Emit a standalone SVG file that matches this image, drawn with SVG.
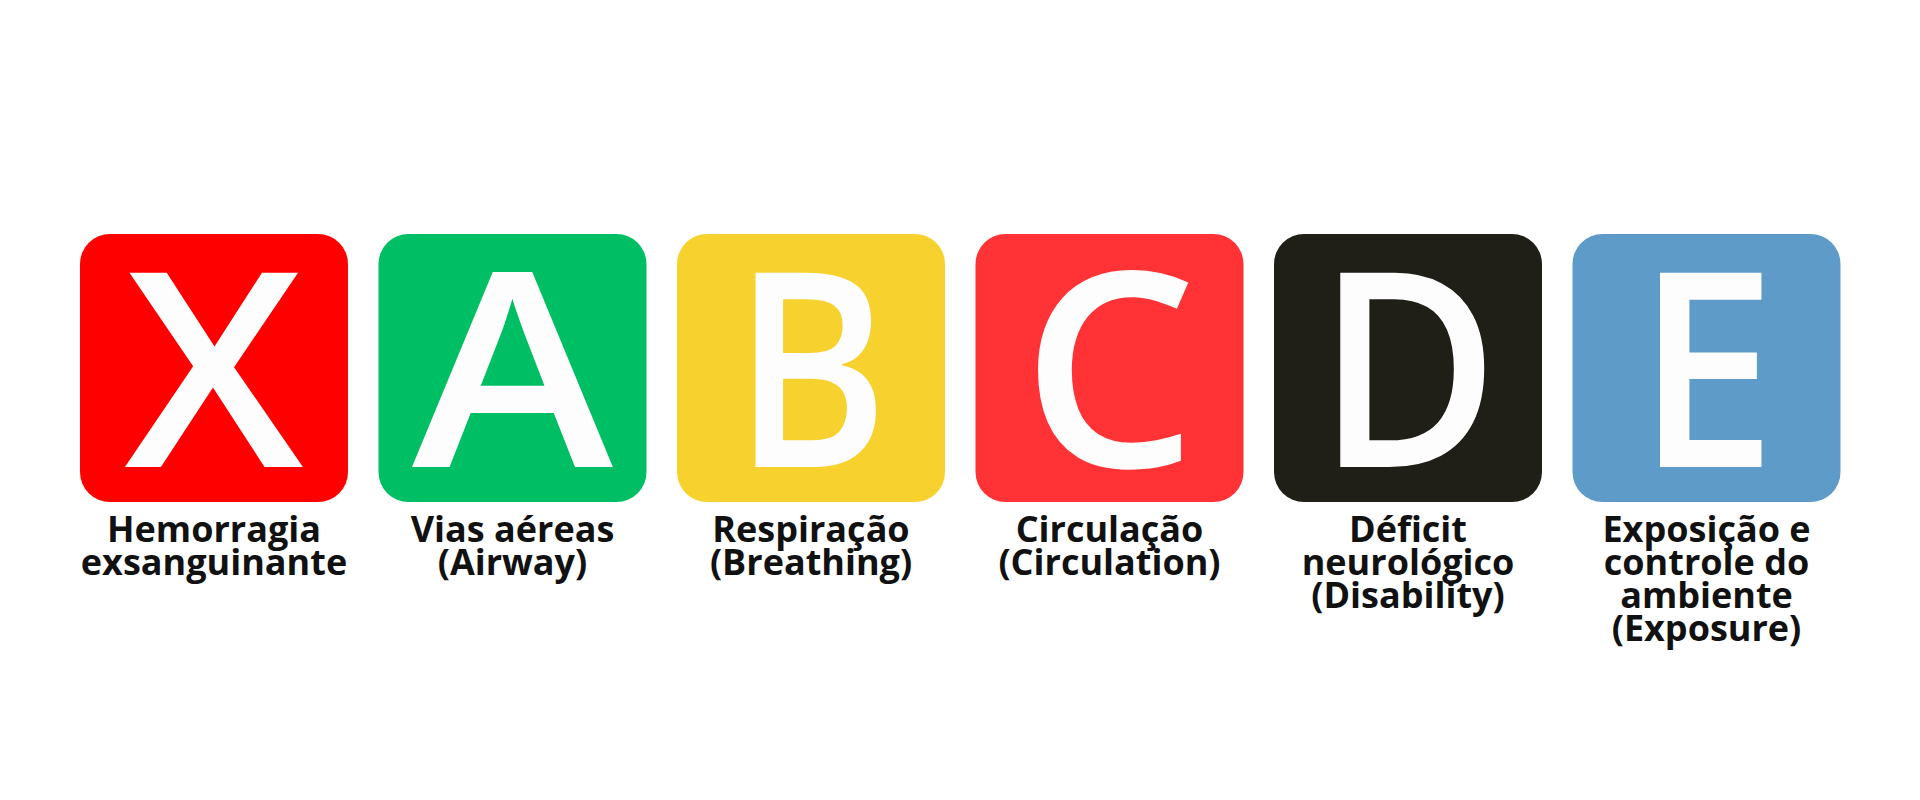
<svg xmlns="http://www.w3.org/2000/svg" width="1920" height="800" viewBox="0 0 1920 800">
  <style>
    .box { stroke: none; }
    .big { font-family: "Open Sans", "Liberation Sans", sans-serif; font-weight: 560; font-size: 272px; fill: #FDFDFD; text-anchor: middle; }
    .lbl { font-family: "Open Sans", "Liberation Sans", sans-serif; font-weight: 700; font-size: 36px; fill: #111111; text-anchor: middle; }
  </style>
  <rect x="0" y="0" width="1920" height="800" fill="#FFFFFF"/>
  <g id="connectors"></g>
  <g id="node-x">
    <rect class="box" x="80" y="234" width="268" height="268" rx="30" fill="#FF0000"/>
    <text class="big" x="214" y="467" textLength="179" lengthAdjust="spacingAndGlyphs">X</text>
    <text class="lbl" x="214" y="542">Hemorragia</text>
    <text class="lbl" x="214" y="575">exsanguinante</text>
  </g>
  <g id="node-a">
    <rect class="box" x="378.5" y="234" width="268" height="268" rx="30" fill="#00BE64"/>
    <text class="big" x="512.5" y="467" textLength="201" lengthAdjust="spacingAndGlyphs">A</text>
    <text class="lbl" x="512.5" y="542">Vias aéreas</text>
    <text class="lbl" x="512.5" y="575">(Airway)</text>
  </g>
  <g id="node-b">
    <rect class="box" x="677" y="234" width="268" height="268" rx="30" fill="#F7D22F"/>
    <text class="big" x="811" y="467" textLength="155" lengthAdjust="spacingAndGlyphs">B</text>
    <text class="lbl" x="811" y="542">Respiração</text>
    <text class="lbl" x="811" y="575">(Breathing)</text>
  </g>
  <g id="node-c">
    <rect class="box" x="975.5" y="234" width="268" height="268" rx="30" fill="#FF3336"/>
    <text class="big" x="1109.5" y="467" textLength="176" lengthAdjust="spacingAndGlyphs">C</text>
    <text class="lbl" x="1109.5" y="542">Circulação</text>
    <text class="lbl" x="1109.5" y="575">(Circulation)</text>
  </g>
  <g id="node-d">
    <rect class="box" x="1274" y="234" width="268" height="268" rx="30" fill="#1F1F17"/>
    <text class="big" x="1408" y="467" textLength="182" lengthAdjust="spacingAndGlyphs">D</text>
    <text class="lbl" x="1408" y="542">Déficit</text>
    <text class="lbl" x="1408" y="575">neurológico</text>
    <text class="lbl" x="1408" y="608">(Disability)</text>
  </g>
  <g id="node-e">
    <rect class="box" x="1572.5" y="234" width="268" height="268" rx="30" fill="#5F9BC8"/>
    <text class="big" x="1706.5" y="467" textLength="140" lengthAdjust="spacingAndGlyphs">E</text>
    <text class="lbl" x="1706.5" y="542">Exposição e</text>
    <text class="lbl" x="1706.5" y="575">controle do</text>
    <text class="lbl" x="1706.5" y="608">ambiente</text>
    <text class="lbl" x="1706.5" y="641">(Exposure)</text>
  </g>
</svg>
